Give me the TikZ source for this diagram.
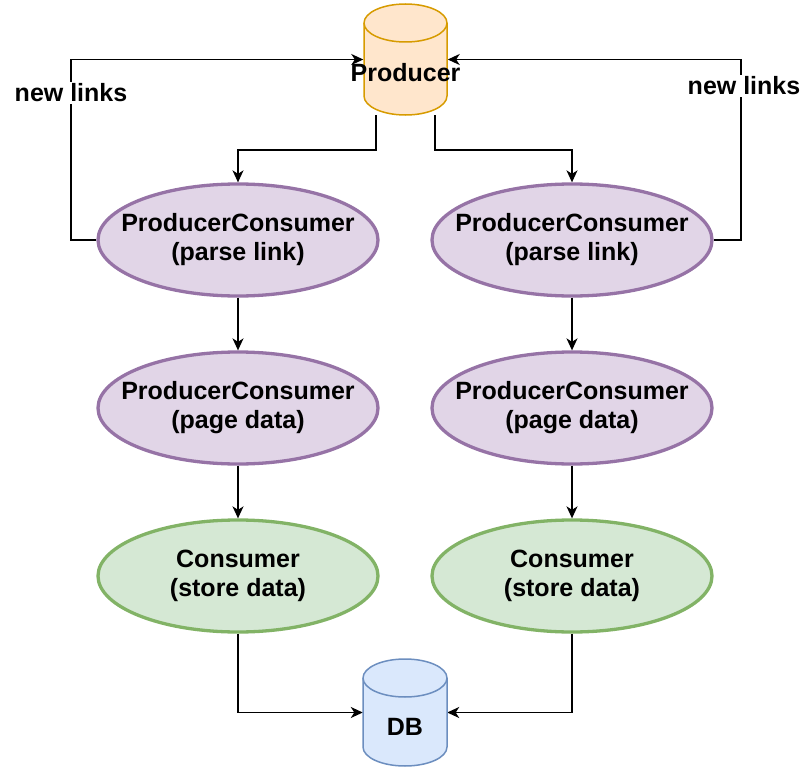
\documentclass[tikz,border=0pt]{standalone}
\usepackage{fontspec}
\setmainfont{Liberation Sans}
\usetikzlibrary{shapes.geometric,arrows.meta,backgrounds}
\definecolor{pfill}{HTML}{E1D5E7}
\definecolor{pline}{HTML}{9673A6}
\definecolor{gfill}{HTML}{D5E8D4}
\definecolor{gline}{HTML}{82B366}
\definecolor{ofill}{HTML}{FFE6CC}
\definecolor{oline}{HTML}{D79B00}
\definecolor{bfill}{HTML}{DAE8FC}
\definecolor{bline}{HTML}{6C8EBF}
\newcommand{\mycyl}[6]{% cx, top, bottom, rx, fill, line
  \filldraw[fill=#5,draw=#6,line width=1.5pt]
    (#1-#4,-#2-19) -- (#1-#4,-#3+19)
    arc[start angle=180,end angle=360,x radius=#4 pt,y radius=19pt]
    -- (#1+#4,-#2-19)
    arc[start angle=0,end angle=180,x radius=#4 pt,y radius=19pt] -- cycle;
  \draw[draw=#6,line width=1.5pt] (#1-#4,-#2-19)
    arc[start angle=180,end angle=360,x radius=#4 pt,y radius=19pt];
}
\tikzset{
  x=1pt,y=1pt,
  txt/.style={font=\bfseries\fontsize{25}{29}\selectfont,align=center},
  ell/.style={txt,ellipse,draw,line width=3.3pt,minimum width=280pt,minimum height=112pt,inner xsep=-20pt,inner ysep=0pt},
  pc/.style={ell,fill=pfill,draw=pline},
  cons/.style={ell,fill=gfill,draw=gline},
  cylnode/.style={txt,rectangle,inner sep=0pt,minimum width=84pt},
  arr/.style={line width=1.5pt,-{Stealth[length=12pt,width=11pt,inset=3.5pt]}},
  lbl/.style={txt,fill=white,inner xsep=1pt,inner ysep=2pt},
}
\begin{document}
\begin{tikzpicture}
\useasboundingbox (0,0) rectangle (804,-768);
\mycyl{405.5}{4}{115}{41.5}{ofill}{oline}
\mycyl{405}{659}{766}{42}{bfill}{bline}
\node[cylnode,minimum height=111pt] (prod) at (405.5,-59.5) {};
\node[txt] (prodt) at (405.5,-73) {Producer};
\node[cylnode,minimum height=107pt] (db) at (405,-712.5) {};
\node[txt] (dbt) at (405,-727) {DB};
\node[pc] (pc1) at (238,-240) {ProducerConsumer\\(parse link)};
\node[pc] (pc2) at (238,-408) {ProducerConsumer\\(page data)};
\node[cons] (con1) at (238,-576) {Consumer\\(store data)};
\node[pc] (pc4) at (572,-240) {ProducerConsumer\\(parse link)};
\node[pc] (pc5) at (572,-408) {ProducerConsumer\\(page data)};
\node[cons] (con2) at (572,-576) {Consumer\\(store data)};
\coordinate (kL) at (71,-93);
\coordinate (kR) at (741,-86);
\begin{scope}[on background layer]
\draw[arr] ([xshift=-29.5pt]prod.south) -- ++(0,-35) -| (pc1.north);
\draw[arr] ([xshift=29.5pt]prod.south) -- ++(0,-35) -| (pc4.north);
\draw[arr] (pc1.west) -| (kL) node[lbl] (nlL) {new links} |- (prod.west);
\draw[arr] (pc4.east) -| (kR) node[lbl,xshift=3pt] (nlR) {new links} |- (prod.east);
\draw[arr] (con1.south) |- (db.west);
\draw[arr] (con2.south) |- (db.east);
\end{scope}
\draw[arr] (pc1.south) -- (pc2.north);
\draw[arr] (pc2.south) -- (con1.north);
\draw[arr] (pc4.south) -- (pc5.north);
\draw[arr] (pc5.south) -- (con2.north);
\end{tikzpicture}
\end{document}
